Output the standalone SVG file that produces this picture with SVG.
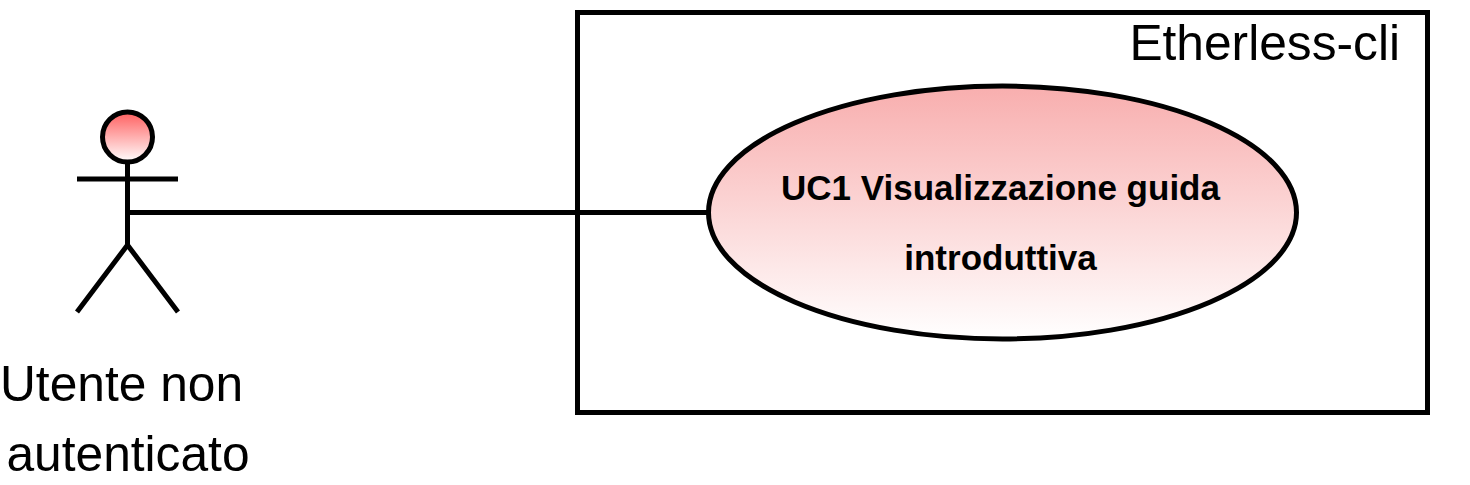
<svg xmlns="http://www.w3.org/2000/svg" width="1470" height="485" viewBox="0 0 1470 485">
<defs>
<linearGradient id="g1" x1="0" y1="0" x2="0" y2="1"><stop offset="0" stop-color="#f8aeae"/><stop offset="1" stop-color="#ffffff"/></linearGradient>
<linearGradient id="g2" x1="0" y1="0" x2="0" y2="1"><stop offset="0" stop-color="#ff5f5f"/><stop offset="1" stop-color="#ffffff"/></linearGradient>
</defs>
<style>
.s{fill:none;stroke:#000;stroke-width:5}
.t{font-family:"Liberation Sans",Arial,sans-serif;fill:#000}
.big{font-size:49.7px}
.b{font-size:35px;font-weight:bold}
</style>
<rect width="1470" height="485" fill="#fff"/>
<g id="system">
<rect class="s" x="577.5" y="12.5" width="850" height="400"/>
<text class="t big" x="1400" y="60" text-anchor="end">Etherless-cli</text>
</g>
<g id="connectors">
<path class="s" d="M127.5 212.5H708.5"/>
</g>
<g id="actor">
<circle cx="127.5" cy="137" r="25" fill="url(#g2)" stroke="#000" stroke-width="5"/>
<path class="s" d="M127.5 162V245M77 179H178M127.5 245L77 312M127.5 245L178 312"/>
<text class="t big" text-anchor="middle" x="121.5" y="401">Utente non</text>
<text class="t big" text-anchor="middle" x="128" y="471">autenticato</text>
</g>
<g id="uc1">
<ellipse cx="1002.5" cy="212.5" rx="294" ry="126.5" fill="url(#g1)" stroke="#000" stroke-width="5"/>
<text class="t b" text-anchor="middle" x="1000.5" y="200">UC1 Visualizzazione guida</text>
<text class="t b" text-anchor="middle" x="1000.5" y="270">introduttiva</text>
</g>
</svg>
